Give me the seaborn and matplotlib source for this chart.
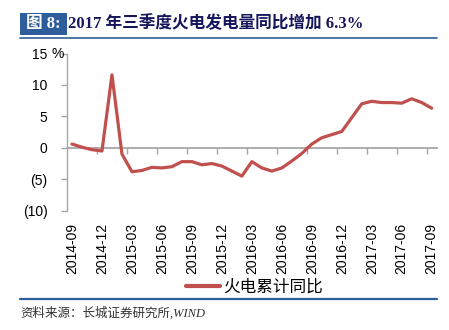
import numpy as np
import pandas as pd
import matplotlib
matplotlib.use("Agg")
import matplotlib.pyplot as plt
import seaborn as sns
from matplotlib.patches import Rectangle
from matplotlib.lines import Line2D

# ---------------- data ----------------
months = [
    "2014-09", "2014-10", "2014-11", "2014-12",
    "2015-01", "2015-02", "2015-03", "2015-04", "2015-05", "2015-06",
    "2015-07", "2015-08", "2015-09", "2015-10", "2015-11", "2015-12",
    "2016-01", "2016-02", "2016-03", "2016-04", "2016-05", "2016-06",
    "2016-07", "2016-08", "2016-09", "2016-10", "2016-11", "2016-12",
    "2017-01", "2017-02", "2017-03", "2017-04", "2017-05", "2017-06",
    "2017-07", "2017-08", "2017-09",
]
thermal_yoy = [
    0.6, 0.1, -0.3, -0.5,
    11.6, -1.0, -3.8, -3.6, -3.1, -3.2,
    -3.0, -2.2, -2.2, -2.7, -2.5, -2.9,
    -3.7, -4.5, -2.2, -3.2, -3.7, -3.2,
    -2.1, -0.9, 0.6, 1.6, 2.1, 2.6,
    4.8, 7.0, 7.4, 7.2, 7.2, 7.1,
    7.8, 7.2, 6.3,
]
series_name = "火电累计同比"
y_ticks = [-10, -5, 0, 5, 10, 15]
y_tick_labels = ["(10)", "(5)", "0", "5", "10", "15"]
label_step = 3
title_tag = "图 8:"
title_text = "2017 年三季度火电发电量同比增加 6.3%"
source_text = "资料来源：长城证券研究所,WIND"

df = pd.DataFrame({"pos": np.arange(len(months)), "month": months, "value": thermal_yoy})

# ---------------- style ----------------
sns.set_theme(style="white")
plt.rcParams["font.family"] = ["Liberation Sans", "Noto Sans CJK SC", "DejaVu Sans"]

W, H = 449, 330
fig = plt.figure(figsize=(W / 100, H / 100), dpi=100)
fig.patch.set_facecolor("white")

def fx(px):
    return px / W

def fy(py):
    return 1 - py / H

ax = fig.add_axes([fx(67), fy(210.7), fx(436.7) - fx(67), fy(53.5) - fy(210.7)])
ax.set_facecolor("white")

line_color = "#C0504D"
axis_gray = "#A6A6A6"

sns.lineplot(data=df, x="pos", y="value", ax=ax, color=line_color,
             linewidth=2.3, label=series_name, legend=False)

ax.set_xlim(-0.5, len(months) - 0.5)
ax.set_ylim(min(y_ticks), max(y_ticks))

# spines
for s in ["top", "right"]:
    ax.spines[s].set_visible(False)
ax.spines["left"].set_color(axis_gray)
ax.spines["left"].set_linewidth(1.0)
ax.spines["bottom"].set_position(("data", 0))
ax.spines["bottom"].set_color(axis_gray)
ax.spines["bottom"].set_linewidth(1.3)
ax.spines["bottom"].set_zorder(1)

# y axis
ax.set_yticks(y_ticks)
ax.set_yticklabels(y_tick_labels)
ax.tick_params(axis="y", direction="out", length=4.5, width=1.0, color=axis_gray,
               pad=9.5, labelsize=10, labelcolor="black", left=True)
ax.text(fx(51.5), fy(54), "%", transform=fig.transFigure, ha="left", va="center",
        fontsize=10, color="black")

# x axis: tick marks on zero line between category groups
ax.set_xticks(np.arange(label_step - 0.5, len(months) - 0.5, label_step))
ax.set_xticklabels([])
ax.tick_params(axis="x", direction="out", length=4.5, width=1.0, color=axis_gray, bottom=True)

# x labels at bottom
sec = ax.secondary_xaxis(0)
sec.set_xticks(df["pos"][::label_step])
sec.set_xticklabels(df["month"][::label_step], rotation=90)
sec.tick_params(length=0, pad=8.5, labelsize=10, labelcolor="black")
sec.spines["bottom"].set_visible(False)

ax.set_xlabel("")
ax.set_ylabel("")
ax.grid(False)

# legend
handles = [Line2D([0], [0], color=line_color, lw=3.0)]
leg = fig.legend(handles, [series_name], loc="center",
                 bbox_to_anchor=(fx(254.5), fy(287)), frameon=False,
                 handlelength=2.0, handletextpad=0.2,
                 prop={"family": ["Noto Sans CJK SC"], "size": 12})
for t in leg.get_texts():
    t.set_color("black")

# header
blue = "#2E5D9B"
fig.add_artist(Rectangle((fx(20), fy(34.5)), fx(67) - fx(20), fy(13) - fy(34.5),
                         transform=fig.transFigure, facecolor=blue, edgecolor="none"))
fig.text(fx(43.5), fy(24), title_tag, ha="center", va="center", color="white",
         fontsize=12, fontweight="bold", family=["Liberation Serif", "Noto Sans CJK SC"])
fig.text(fx(68), fy(24), title_text, ha="left", va="center", color="#16165C",
         fontsize=12, fontweight="bold", family=["Liberation Serif", "Noto Sans CJK SC"])
fig.add_artist(Line2D([fx(20), fx(437)], [fy(37.7), fy(37.7)], color=blue, lw=1.2,
                      transform=fig.transFigure))

# footer
fig.add_artist(Line2D([fx(20), fx(437)], [fy(299.3), fy(299.3)], color=blue, lw=1.6,
                      transform=fig.transFigure))
fig.text(fx(20), fy(313), source_text, ha="left", va="center", color="#333333",
         fontsize=9, style="italic", family=["Liberation Serif", "Noto Sans CJK SC"])

fig.savefig("out.png", dpi=100, facecolor="white")
